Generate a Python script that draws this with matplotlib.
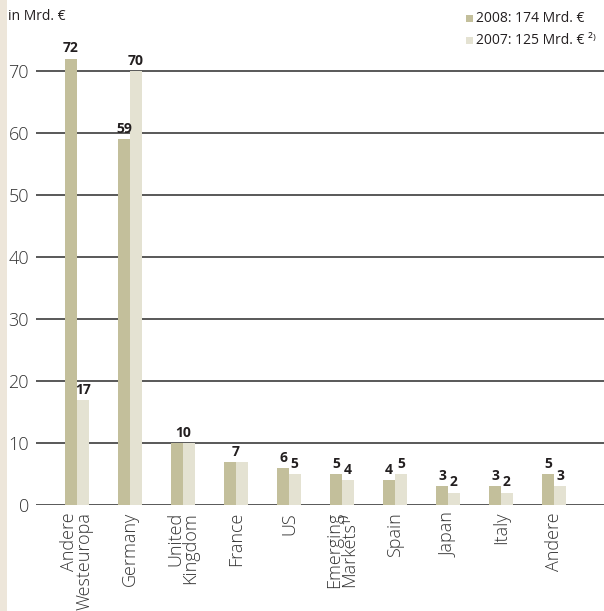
import matplotlib.pyplot as plt
import numpy as np
from matplotlib.patches import Rectangle

plt.rcParams['font.family'] = ['Open Sans', 'Noto Sans', 'DejaVu Sans']

# Regionen und Werte in Mrd. €
categories = ['Andere\nWesteuropa', 'Germany', 'United\nKingdom', 'France', 'US',
              'Emerging\nMarkets¹⁾', 'Spain', 'Japan', 'Italy', 'Andere']
values_2008 = [72, 59, 10, 7, 6, 5, 4, 3, 3, 5]
values_2007 = [17, 70, 10, 7, 5, 4, 5, 2, 2, 3]
yticks = [0, 10, 20, 30, 40, 50, 60, 70]

COLOR_2008 = '#c3bf9b'
COLOR_2007 = '#e4e2d2'
TEXT = '#231f20'

fig = plt.figure(figsize=(6.04, 6.11), dpi=100)
fig.patch.set_facecolor('white')

# schmaler Streifen am linken Rand
fig.add_artist(Rectangle((0, 0), 7 / 604, 1, transform=fig.transFigure,
                         facecolor='#ede6da', edgecolor='none'))

ax = fig.add_axes([36 / 604, 1 - 505 / 611, 1 - 36 / 604, (505 - 40) / 611])
x = np.arange(len(categories))
w = 0.22

# Gitterlinien hinter den Balken
for t in yticks:
    ax.axhline(t, color='#2b2b2b', lw=1.1, zorder=1)

ax.bar(x - w / 2, values_2008, w, color=COLOR_2008, zorder=2)
ax.bar(x + w / 2, values_2007, w, color=COLOR_2007, zorder=2)

# Werte über den Balken; bei gleichen Werten nur eine Zahl mittig
label_kw = dict(ha='center', va='bottom', fontsize=10, fontweight='bold', color=TEXT)
for xi, a, b in zip(x, values_2008, values_2007):
    if a == b:
        ax.text(xi, a + 0.5, str(a), **label_kw)
    else:
        ax.text(xi - w / 2, a + 0.5, str(a), **label_kw)
        ax.text(xi + w / 2, b + 0.5, str(b), **label_kw)

ax.set_xlim(-0.77, 9.94)
ax.set_ylim(0, 75)
ax.set_yticks(yticks)
ax.set_yticklabels([str(t) for t in yticks], fontsize=13, color='#333333',
                   fontweight='light')
ax.tick_params(axis='y', length=0, pad=5)
ax.set_xticks(x)
ax.set_xticklabels(categories, rotation=90, fontsize=13, color='#333333',
                   fontweight='light', multialignment='right', va='top',
                   linespacing=0.8)
ax.tick_params(axis='x', length=0, pad=5)
for s in ax.spines.values():
    s.set_visible(False)

fig.text(8 / 604, 1 - 16 / 611, 'in Mrd. €', fontsize=10, color=TEXT, va='center')

# Legende
fig.add_artist(Rectangle((466 / 604, 1 - 22 / 611), 7 / 604, 7 / 611,
                         transform=fig.transFigure, facecolor=COLOR_2008, edgecolor='none'))
fig.add_artist(Rectangle((466 / 604, 1 - 44 / 611), 7 / 604, 7 / 611,
                         transform=fig.transFigure, facecolor=COLOR_2007, edgecolor='none'))
fig.text(476 / 604, 1 - 18 / 611, '2008: 174 Mrd. €', fontsize=10, color=TEXT, va='center')
fig.text(476 / 604, 1 - 40 / 611, '2007: 125 Mrd. € ²⁾', fontsize=10, color=TEXT, va='center')

fig.savefig('out.png', dpi=100)
